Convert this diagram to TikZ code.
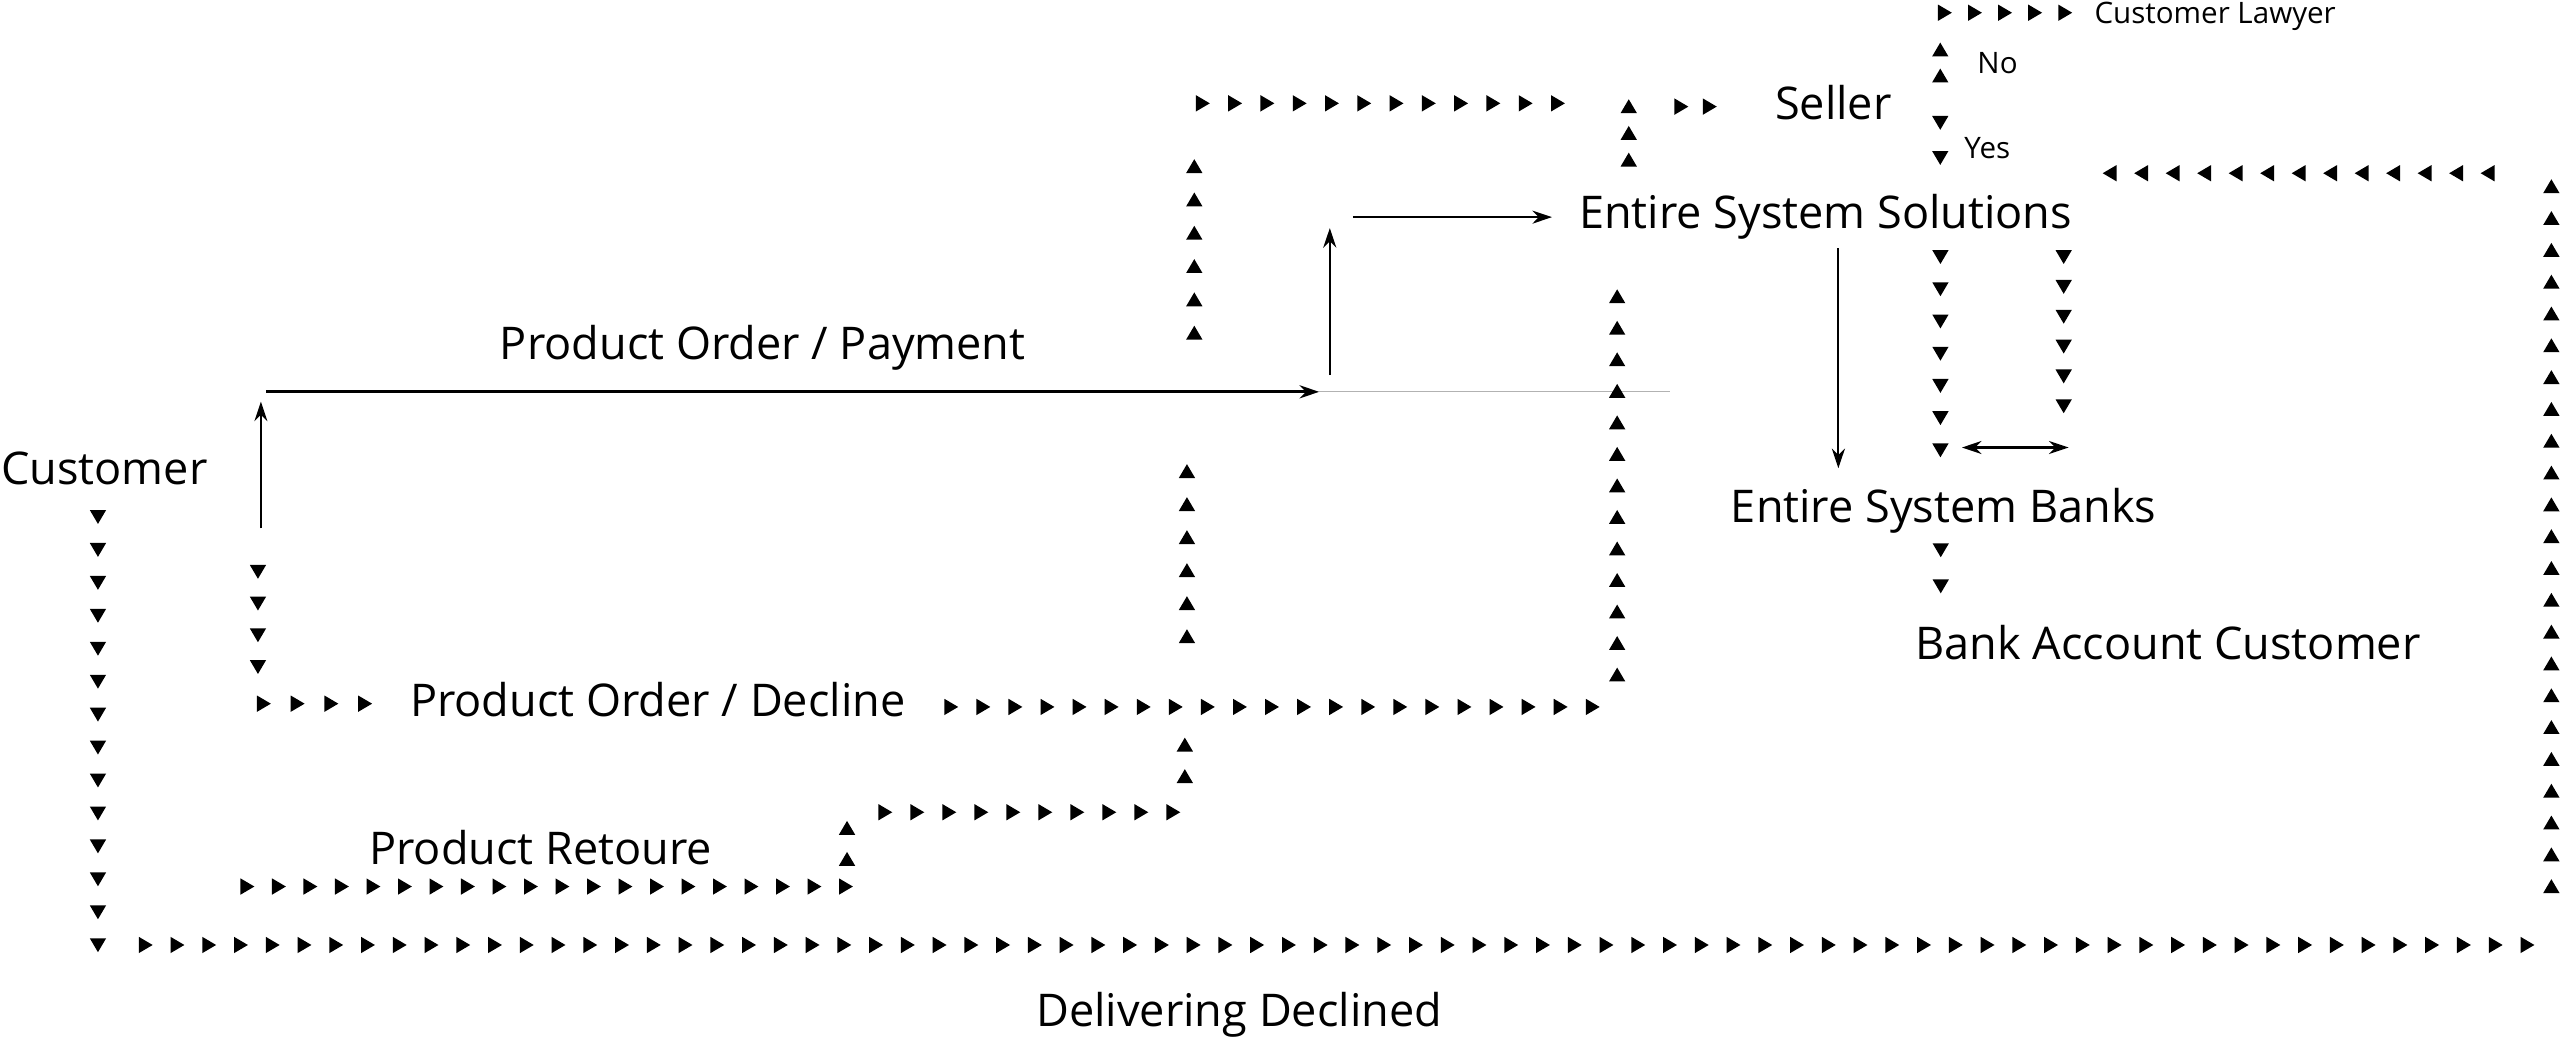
\documentclass[tikz,border=0pt]{standalone}
\usepackage{fontspec}
\setmainfont{Open Sans}
\usetikzlibrary{arrows.meta,calc}

\tikzset{
  lbl/.style={inner sep=0pt, anchor=base west, font=\fontsize{27.6}{32}\selectfont},
  lbls/.style={inner sep=0pt, anchor=base west, font=\fontsize{18.1}{21}\selectfont},
  flow/.style={line width=1.3pt, -{Stealth[length=12pt,width=8pt]}},
  tri/.pic={\fill (4.5,0) -- (-4,5) -- (-4,-5) -- cycle;}
}
\newcommand{\trirun}[4]{\foreach \i in {0,...,#3} \pic[rotate=#4] at ($(#1)!\i/#3!(#2)$) {tri};}

\begin{document}
\begin{tikzpicture}[x=1pt, y=-1pt]
    \useasboundingbox (0,0) rectangle (1568,636);

    \node[lbl] (customer) at (0.5,297) {Customer};
    \node[lbl] (seller) at (1087,73.5) {Seller};
    \node[lbl] (ess) at (967,139.8) {Entire System Solutions};
    \node[lbl] (esb) at (1060,320) {Entire System Banks};
    \node[lbl] (bac) at (1173,403.8) {Bank Account Customer};
    \node[lbl] (pop) at (306,220.5) {Product Order / Payment};
    \node[lbl] (pod) at (251,438.9) {Product Order / Decline};
    \node[lbl] (pr) at (226,529.8) {Product Retoure};
    \node[lbl] (dd) at (634.6,628.7) {Delivering Declined};
    \node[lbls] (lawyer) at (1282.7,14.3) {Customer Lawyer};
    \node[lbls] (no) at (1211,44.9) {No};
    \node[lbls] (yes) at (1203,97) {Yes};

    \coordinate (c1) at (159.8,323.6);
    \coordinate (c2) at (159.8,246);
    \coordinate (p1) at (163,240);
    \coordinate (p2) at (808,240);
    \coordinate (g) at (1022.8,240);
    \coordinate (u1) at (814.5,229.7);
    \coordinate (u2) at (814.5,139.7);
    \coordinate (h1) at (828.6,133);
    \coordinate (h2) at (950.6,133);
    \coordinate (d1) at (1126,152);
    \coordinate (d2) at (1126,286.8);
    \coordinate (b1) at (1201.7,274.1);
    \coordinate (b2) at (1267,274.1);

    \draw[flow, line width=1pt] (c1) -- (c2);
    \draw[flow, line width=1.7pt] (p1) -- (p2);
    \draw[gray!60, line width=0.8pt] (p2) -- (g);
    \draw[flow] (u1) -- (u2);
    \draw[flow] (h1) -- (h2);
    \draw[flow] (d1) -- (d2);
    \draw[flow, {Stealth[length=12pt,width=8pt]}-{Stealth[length=12pt,width=8pt]}] (b1) -- (b2);

    \coordinate (cd0) at (60,316.4);     \coordinate (cd1) at (60,578.7);
    \coordinate (dl0) at (89,578.8);     \coordinate (dl1) at (1547.8,578.8);
    \coordinate (rt0) at (1562.7,543);   \coordinate (rt1) at (1562.7,114.3);
    \coordinate (bk0) at (1523.9,106.1); \coordinate (bk1) at (1292.4,106.1);
    \coordinate (lw0) at (1191,7.8);     \coordinate (lw1) at (1264.7,7.8);
    \coordinate (no0) at (1188.4,46.5);  \coordinate (no1) at (1188.4,30.6);
    \coordinate (ye0) at (1188.4,75);    \coordinate (ye1) at (1188.4,96.5);
    \coordinate (sa0) at (1188.5,157.2); \coordinate (sa1) at (1188.5,275.6);
    \coordinate (sb0) at (1264,157.2);   \coordinate (sb1) at (1264,248.6);
    \coordinate (ba0) at (1188.7,336.8); \coordinate (ba1) at (1188.7,358.9);
    \coordinate (tp0) at (736.5,63.3);   \coordinate (tp1) at (954,63.3);
    \coordinate (tl0) at (731.5,204);    \coordinate (tl1) at (731.5,102);
    \coordinate (se0) at (997.6,98);     \coordinate (se1) at (997.6,65.3);
    \coordinate (sr0) at (1029.6,65.3);  \coordinate (sr1) at (1047,65.3);
    \coordinate (ec0) at (990.5,413.4);  \coordinate (ec1) at (990.5,181.7);
    \coordinate (de0) at (582.4,433);    \coordinate (de1) at (975.3,433);
    \coordinate (dq0) at (161.4,431);    \coordinate (dq1) at (223.4,431);
    \coordinate (dc0) at (158,350);      \coordinate (dc1) at (158,408.3);
    \coordinate (mc0) at (727,389.9);    \coordinate (mc1) at (727,288.8);
    \coordinate (lc0) at (725.7,475.6);  \coordinate (lc1) at (725.7,456.3);
    \coordinate (rr0) at (542,497.5);    \coordinate (rr1) at (718.4,497.5);
    \coordinate (rc0) at (518.8,526.3);  \coordinate (rc1) at (518.8,507.3);
    \coordinate (re0) at (151.3,543);    \coordinate (re1) at (517.9,543);

    \trirun{cd0}{cd1}{13}{-90}
    \trirun{dl0}{dl1}{75}{0}
    \trirun{rt0}{rt1}{22}{90}
    \trirun{bk0}{bk1}{12}{180}
    \trirun{lw0}{lw1}{4}{0}
    \trirun{no0}{no1}{1}{90}
    \trirun{ye0}{ye1}{1}{-90}
    \trirun{sa0}{sa1}{6}{-90}
    \trirun{sb0}{sb1}{5}{-90}
    \trirun{ba0}{ba1}{1}{-90}
    \trirun{tp0}{tp1}{11}{0}
    \trirun{tl0}{tl1}{5}{90}
    \trirun{se0}{se1}{2}{90}
    \trirun{sr0}{sr1}{1}{0}
    \trirun{ec0}{ec1}{12}{90}
    \trirun{de0}{de1}{20}{0}
    \trirun{dq0}{dq1}{3}{0}
    \trirun{dc0}{dc1}{3}{-90}
    \trirun{mc0}{mc1}{5}{90}
    \trirun{lc0}{lc1}{1}{90}
    \trirun{rr0}{rr1}{9}{0}
    \trirun{rc0}{rc1}{1}{90}
    \trirun{re0}{re1}{19}{0}
  \end{tikzpicture}
\end{document}
